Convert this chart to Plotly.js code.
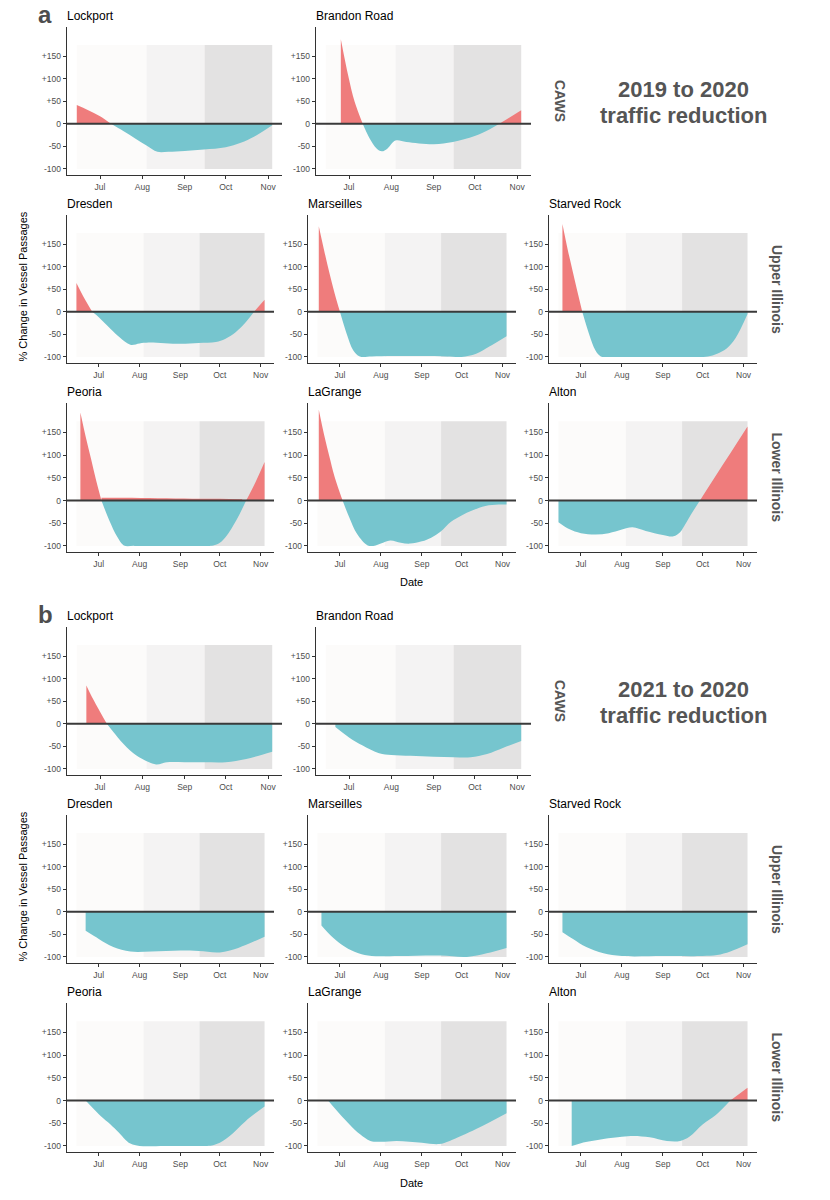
<!DOCTYPE html>
<html><head><meta charset="utf-8">
<script src="https://cdn.plot.ly/plotly-3.0.1.min.js"></script>
<style>html,body{margin:0;padding:0;background:#fff}</style>
</head><body><div id="chart" style="width:830px;height:1200px"></div>
<script>
// ---------- tick labels & periods ----------
const monthTicks = ['2020-07-01','2020-08-01','2020-09-01','2020-10-01','2020-11-01'];
const monthLabels = ['Jul','Aug','Sep','Oct','Nov'];
const yTickVals = [-100,-50,0,50,100,150];
const yTickLabels = ['-100','-50','0','+50','+100','+150'];
const periodStarts = ['2020-06-14','2020-08-04','2020-09-15 12:00'];
const periodEnds = ['2020-08-04','2020-09-15 12:00','2020-11-04'];
const periodTop = 175, periodBottom = -100;

// ---------- panel a: 2019 to 2020 ----------
const a_lockport_d = ['06-14','06-22','07-01','07-09','07-18','07-27','08-04','08-12','08-20','09-01','09-15','10-01','10-12','10-22','11-04'];
const a_lockport_v = [42,31,17,0,-16,-33,-48,-62,-62,-60,-57,-52,-42,-28,-3];
const a_brandon_d = ['06-25','06-28','07-01','07-05','07-11','07-16','07-21','07-25','07-29','08-04','08-12','09-01','09-15','10-01','10-12','10-19','11-04'];
const a_brandon_v = [188,142,99,50,0,-32,-54,-61,-55,-37,-40,-45,-40,-27,-12,0,30];
const a_dresden_d = ['06-14','06-20','06-26','07-01','07-10','07-17','07-25','08-01','08-08','09-01','09-15','09-28','10-05','10-13','10-21','10-27','11-04'];
const a_dresden_v = [64,30,0,-12,-38,-57,-73,-70,-68,-71,-69,-67,-60,-45,-22,0,27];
const a_marseilles_d = ['06-15','06-19','06-23','06-27','07-01','07-06','07-11','07-16','07-25','08-10','09-01','09-20','10-01','10-12','10-22','11-04'];
const a_marseilles_v = [190,137,87,41,0,-48,-85,-99,-99,-98,-98,-99,-100,-93,-77,-54];
const a_starved_d = ['06-17','06-21','06-25','06-29','07-02','07-07','07-12','07-16','07-22','08-05','08-25','09-15','09-28','10-05','10-12','10-19','10-26','11-04'];
const a_starved_v = [195,138,87,37,0,-48,-86,-99,-100,-100,-100,-100,-100,-99,-93,-82,-58,-5];
const a_peoria_d = ['06-17','06-21','06-25','06-29','07-03','07-09','07-15','07-20','07-28','08-15','09-05','09-15','09-22','09-26','10-01','10-06','10-11','10-16','10-21','10-28','11-04'];
const a_peoria_v = [194,141,93,44,0,-44,-80,-99,-100,-100,-100,-100,-100,-99,-93,-78,-56,-30,0,40,85];
const a_peoria_resid_d = ['07-03','07-20','08-15','09-10','10-01','10-18'];
const a_peoria_resid_v = [6,6,5,4,4,3];
const a_lagrange_d = ['06-15','06-19','06-23','06-27','07-03','07-08','07-14','07-22','07-28','08-01','08-08','08-16','08-23','09-01','09-08','09-15','09-23','10-01','10-09','10-19','10-29','11-04'];
const a_lagrange_v = [200,145,97,52,0,-37,-74,-99,-99,-95,-88,-93,-95,-90,-82,-69,-47,-33,-22,-12,-9,-9];
const a_alton_d = ['06-14','06-22','07-01','07-12','07-22','08-01','08-09','08-19','09-01','09-09','09-14','09-18','09-22','09-29','10-10','10-22','11-04'];
const a_alton_v = [-48,-63,-72,-75,-72,-64,-59,-67,-76,-79,-70,-52,-32,0,50,104,163];

// ---------- panel b: 2021 to 2020 ----------
const b_lockport_d = ['06-21','06-25','07-01','07-06','07-14','07-23','08-01','08-11','08-19','09-01','09-15','10-01','10-16','11-04'];
const b_lockport_v = [85,60,27,0,-30,-59,-78,-90,-85,-85,-85,-85,-78,-62];
const b_brandon_d = ['06-21','07-01','07-11','07-23','08-01','08-15','09-01','09-16','09-28','10-10','10-22','11-04'];
const b_brandon_v = [-7,-30,-48,-65,-69,-71,-73,-74,-74,-67,-53,-38];
const b_dresden_d = ['06-21','07-01','07-12','07-25','08-10','09-01','09-15','10-01','10-15','11-04'];
const b_dresden_v = [-42,-60,-78,-88,-88,-86,-87,-90,-80,-55];
const b_marseilles_d = ['06-17','06-25','07-05','07-15','07-25','08-15','09-15','10-05','10-20','11-04'];
const b_marseilles_v = [-30,-55,-78,-92,-98,-98,-97,-100,-92,-80];
const b_starved_d = ['06-17','06-25','07-05','07-18','08-01','09-01','10-01','10-12','10-22','11-04'];
const b_starved_v = [-45,-60,-78,-92,-98,-98,-98,-96,-88,-72];
const b_peoria_d = ['06-21','07-01','07-08','07-15','07-25','08-01','08-20','09-05','09-13','09-20','09-25','10-01','10-06','10-11','10-17','10-24','11-04'];
const b_peoria_v = [0,-30,-48,-67,-95,-100,-100,-100,-100,-100,-99,-93,-84,-72,-55,-37,-13];
const b_lagrange_d = ['06-22','07-01','07-16','07-24','08-01','08-13','09-01','09-14','09-22','10-12','11-04'];
const b_lagrange_v = [0,-30,-74,-89,-91,-89,-93,-96,-89,-63,-28];
const b_alton_d = ['06-24','07-01','07-18','08-01','08-10','08-22','09-04','09-14','09-21','10-01','10-11','10-22','11-04'];
const b_alton_v = [-100,-94,-85,-80,-78,-81,-89,-89,-80,-53,-32,0,28];

const regionLabels = ['CAWS','Upper Illinois','Lower Illinois'];
const panelTitles = {a:['2019 to 2020','traffic reduction'], b:['2021 to 2020','traffic reduction']};

// ---------- styling / geometry ----------
const W = 830, H = 1200;
const FONT = 'Liberation Sans, Arial, Helvetica, sans-serif';
const RED = '#EF7C7C', TEAL = '#76C5CE';
const PERIOD_COLORS = ['#FCFBFA','#F4F3F3','#E3E2E2'];
const X_RANGE = ['2020-06-06 20:00','2020-11-11 04:00'];
const Y_RANGE = [-113.5, 215];
const rowTopsA = [27, 215, 403], rowBotsA = [175, 363, 552];
const colsRow0 = [[67,282],[316,531]];
const colsRowN = [[67,274],[308,516],[549,757]];

const cells = [
  {p:'a',r:0,c:0,name:'Lockport',d:a_lockport_d,v:a_lockport_v},
  {p:'a',r:0,c:1,name:'Brandon Road',d:a_brandon_d,v:a_brandon_v},
  {p:'a',r:1,c:0,name:'Dresden',d:a_dresden_d,v:a_dresden_v},
  {p:'a',r:1,c:1,name:'Marseilles',d:a_marseilles_d,v:a_marseilles_v},
  {p:'a',r:1,c:2,name:'Starved Rock',d:a_starved_d,v:a_starved_v},
  {p:'a',r:2,c:0,name:'Peoria',d:a_peoria_d,v:a_peoria_v,resD:a_peoria_resid_d,resV:a_peoria_resid_v},
  {p:'a',r:2,c:1,name:'LaGrange',d:a_lagrange_d,v:a_lagrange_v},
  {p:'a',r:2,c:2,name:'Alton',d:a_alton_d,v:a_alton_v},
  {p:'b',r:0,c:0,name:'Lockport',d:b_lockport_d,v:b_lockport_v},
  {p:'b',r:0,c:1,name:'Brandon Road',d:b_brandon_d,v:b_brandon_v},
  {p:'b',r:1,c:0,name:'Dresden',d:b_dresden_d,v:b_dresden_v},
  {p:'b',r:1,c:1,name:'Marseilles',d:b_marseilles_d,v:b_marseilles_v},
  {p:'b',r:1,c:2,name:'Starved Rock',d:b_starved_d,v:b_starved_v},
  {p:'b',r:2,c:0,name:'Peoria',d:b_peoria_d,v:b_peoria_v},
  {p:'b',r:2,c:1,name:'LaGrange',d:b_lagrange_d,v:b_lagrange_v},
  {p:'b',r:2,c:2,name:'Alton',d:b_alton_d,v:b_alton_v}
];

function toMs(md){ return Date.parse('2020-' + md + 'T00:00:00Z'); }
function msToStr(ms){ return new Date(ms).toISOString().replace('T',' ').slice(0,19); }

// split a series into same-sign segments, closing at zero crossings
function segments(ds, vs){
  const xs = ds.map(toMs), n = xs.length, segs = [];
  let cur = null;
  for(let i=0;i<n;i++){
    const x = xs[i], v = vs[i];
    if(!cur){ cur = {pts:[[x,v]], sign:Math.sign(v)}; }
    else { cur.pts.push([x,v]); if(cur.sign===0) cur.sign = Math.sign(v); }
    if(i<n-1){
      const v2 = vs[i+1];
      if(v===0){
        if(cur.pts.length>1){ segs.push(cur); cur = {pts:[[x,0]], sign:0}; }
      } else if(v*v2<0){
        const xc = x + (xs[i+1]-x)*v/(v-v2);
        cur.pts.push([xc,0]); segs.push(cur); cur = {pts:[[xc,0]], sign:0};
      }
    }
  }
  if(cur && cur.pts.length>1) segs.push(cur);
  return segs;
}

const traces = [], shapes = [], annotations = [];
const layout = {width:W, height:H, autosize:false, margin:{l:0,r:0,t:0,b:0},
  paper_bgcolor:'#ffffff', plot_bgcolor:'rgba(0,0,0,0)', showlegend:false,
  font:{family:FONT, color:'#000'}, hovermode:false};

function areaTrace(xs, ys, color, xa, ya){
  return {type:'scatter', mode:'lines', x:xs, y:ys, xaxis:xa, yaxis:ya,
    fill:'tozeroy', fillcolor:color, line:{width:0, color:'rgba(0,0,0,0)', shape:'spline', smoothing:1},
    hoverinfo:'skip', showlegend:false};
}

cells.forEach((cell, i) => {
  const k = i+1;
  const xa = k===1 ? 'x' : 'x'+k, ya = k===1 ? 'y' : 'y'+k;
  const off = cell.p==='a' ? 0 : 600;
  const top = rowTopsA[cell.r] + off, bot = rowBotsA[cell.r] + off;
  const cols = cell.r===0 ? colsRow0 : colsRowN;
  const [l, r] = cols[cell.c];
  layout['xaxis'+(k===1?'':k)] = {domain:[l/W, r/W], anchor:ya, type:'date', range:X_RANGE,
    tickmode:'array', tickvals:monthTicks, ticktext:monthLabels,
    showline:true, linecolor:'#333', linewidth:1.3, ticks:'outside', ticklen:3, tickwidth:1, tickcolor:'#333',
    tickfont:{size:8.5, color:'#4d4d4d', family:FONT}, showgrid:false, zeroline:false, fixedrange:true};
  layout['yaxis'+(k===1?'':k)] = {domain:[1-bot/H, 1-top/H], anchor:xa, range:Y_RANGE,
    tickmode:'array', tickvals:yTickVals, ticktext:yTickLabels,
    showline:true, linecolor:'#333', linewidth:1.3, ticks:'outside', ticklen:3, tickwidth:1, tickcolor:'#333',
    tickfont:{size:8.5, color:'#4d4d4d', family:FONT}, showgrid:false, zeroline:false, fixedrange:true};
  // period bands
  for(let j=0;j<3;j++){
    shapes.push({type:'rect', xref:xa, yref:ya, x0:periodStarts[j], x1:periodEnds[j], y0:periodBottom, y1:periodTop,
      fillcolor:PERIOD_COLORS[j], line:{width:0}, layer:'below'});
  }
  // filled areas
  segments(cell.d, cell.v).forEach(s => {
    traces.push(areaTrace(s.pts.map(p=>msToStr(p[0])), s.pts.map(p=>p[1]), s.sign>=0 ? RED : TEAL, xa, ya));
  });
  if(cell.resD){
    traces.push(areaTrace(cell.resD.map(d=>'2020-'+d), cell.resV, RED, xa, ya));
  }
  // zero line
  shapes.push({type:'line', xref:xa+' domain', yref:ya, x0:0, x1:1, y0:0, y1:0,
    line:{color:'#3a3a3a', width:2}, layer:'above'});
  // station title
  annotations.push({xref:'paper', yref:'paper', x:(l-2)/W, y:1-(top-11.2)/H, xanchor:'left', yanchor:'middle',
    text:cell.name, showarrow:false, font:{size:12, color:'#000', family:FONT}});
});

['a','b'].forEach(p => {
  const off = p==='a' ? 0 : 600;
  annotations.push({xref:'paper', yref:'paper', x:45/W, y:1-(off+14)/H, xanchor:'center', yanchor:'middle',
    text:'<b>'+p+'</b>', showarrow:false, font:{size:24, color:'#4d4d4d', family:FONT}});
  annotations.push({xref:'paper', yref:'paper', x:683/W, y:1-(off+89)/H, xanchor:'center', yanchor:'middle',
    text:'<b>'+panelTitles[p][0]+'</b>', showarrow:false, font:{size:22, color:'#555', family:FONT}});
  annotations.push({xref:'paper', yref:'paper', x:683/W, y:1-(off+115.7)/H, xanchor:'center', yanchor:'middle',
    text:'<b>'+panelTitles[p][1]+'</b>', showarrow:false, font:{size:22, color:'#555', family:FONT}});
  const stripX = [560, 777, 777];
  regionLabels.forEach((lab, r) => {
    const cy = (rowTopsA[r] + rowBotsA[r]) / 2 + off;
    annotations.push({xref:'paper', yref:'paper', x:stripX[r]/W, y:1-cy/H, xanchor:'center', yanchor:'middle',
      text:'<b>'+lab+'</b>', textangle:90, showarrow:false, font:{size:14, color:'#555', family:FONT}});
  });
  annotations.push({xref:'paper', yref:'paper', x:22.5/W, y:1-(off+287)/H, xanchor:'center', yanchor:'middle',
    text:'% Change in Vessel Passages', textangle:-90, showarrow:false, font:{size:11, color:'#000', family:FONT}});
  annotations.push({xref:'paper', yref:'paper', x:411/W, y:1-(off+582.5)/H, xanchor:'center', yanchor:'middle',
    text:'Date', showarrow:false, font:{size:11, color:'#000', family:FONT}});
});

layout.shapes = shapes;
layout.annotations = annotations;
Plotly.newPlot('chart', traces, layout, {staticPlot:true, displayModeBar:false});
</script>
</body></html>
